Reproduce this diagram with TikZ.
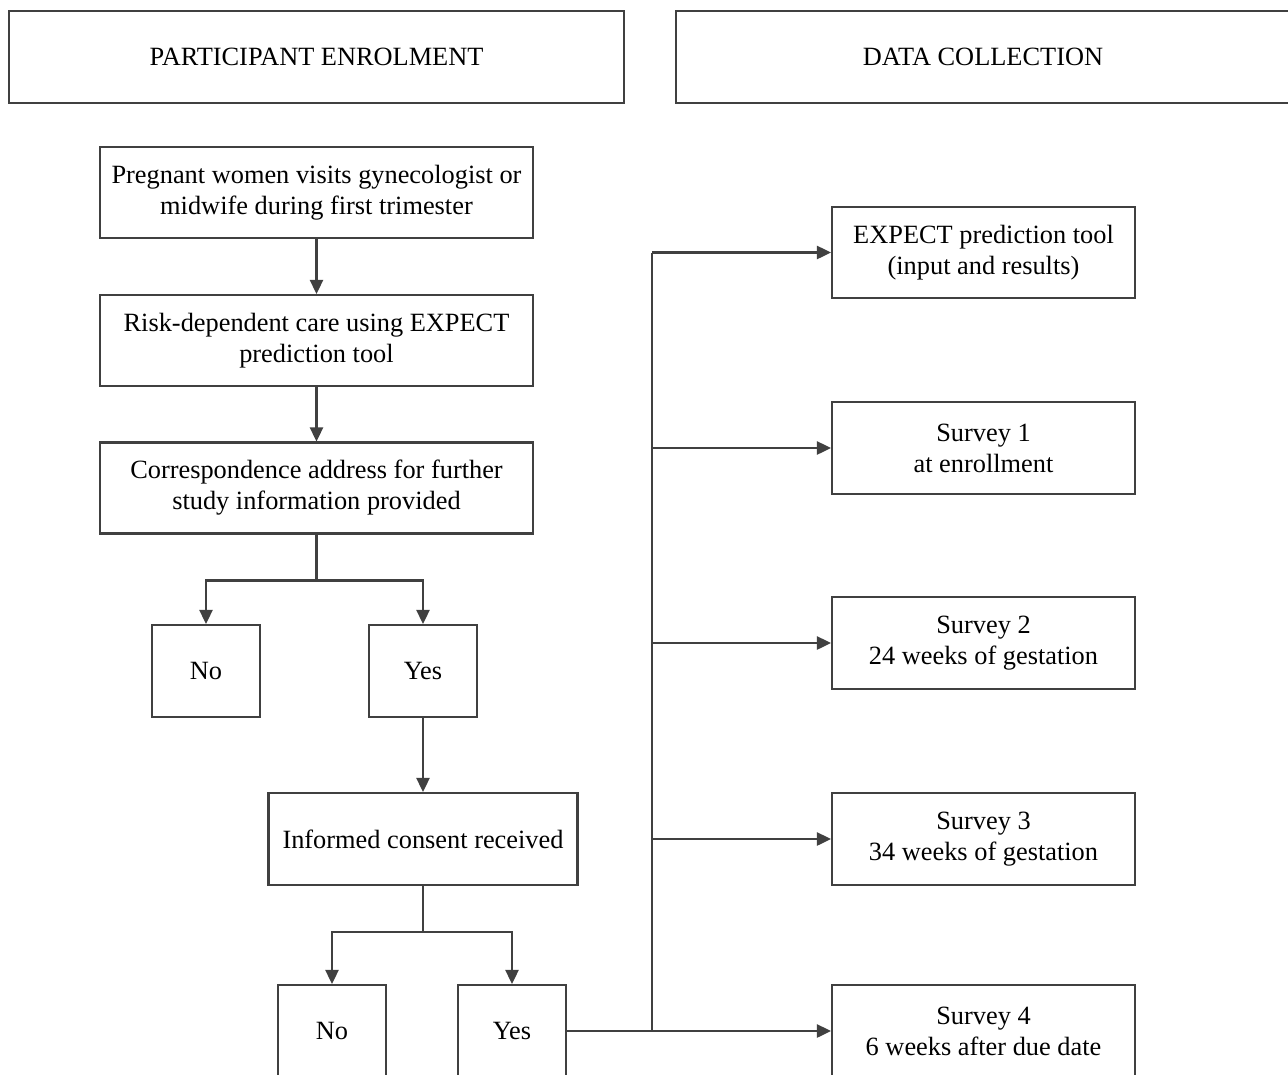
\documentclass[tikz,border=0pt]{standalone}
\usepackage{fontspec}
\setmainfont{Liberation Serif}
\usetikzlibrary{positioning,arrows.meta}
\definecolor{linegray}{HTML}{404040}
\tikzstyle{box} = [draw=linegray, line width=1.2pt, align=center, inner sep=2pt, font=\fontsize{15}{17.6}\selectfont]
\tikzstyle{line} = [linegray, line width=1.2pt]
\tikzstyle{arrow} = [linegray, line width=1.2pt, -{Triangle[length=8pt,width=7.5pt]}]

\begin{document}
\begin{tikzpicture}[x=0.02cm,y=-0.02cm]
      \useasboundingbox (0,0) rectangle (1288,1075);
      % headings
      \node[box,minimum width=12.3cm,minimum height=1.84cm] (enrol) at (316.5,57) {PARTICIPANT ENROLMENT};
      \node[box,minimum width=12.28cm,minimum height=1.84cm] (collect) at (983,57) {DATA COLLECTION};

      % enrolment
      \node[box,minimum width=8.66cm,minimum height=1.82cm] (visit) at (316.5,192.5) {Pregnant women visits gynecologist or\\midwife during first trimester};
      \node[box,minimum width=8.66cm,minimum height=1.82cm] (risk) at (316.5,340.5) {Risk-dependent care using EXPECT\\prediction tool};
      \node[box,minimum width=8.66cm,minimum height=1.82cm] (address) at (316.5,488) {Correspondence address for further\\study information provided};
      \node[box,minimum width=2.16cm,minimum height=1.84cm] (noA) at (206,671) {No};
      \node[box,minimum width=2.16cm,minimum height=1.84cm] (yesA) at (423,671) {Yes};
      \node[box,minimum width=6.18cm,minimum height=1.84cm] (consent) at (423,839) {Informed consent received};
      \node[box,minimum width=2.16cm,minimum height=1.84cm] (noB) at (332,1031) {No};
      \node[box,minimum width=2.16cm,minimum height=1.84cm] (yesB) at (512,1031) {Yes};

      % data collection
      \node[box,minimum width=6.06cm,minimum height=1.82cm] (expect) at (983.5,252.5) {EXPECT prediction tool\\(input and results)};
      \node[box,minimum width=6.06cm,minimum height=1.84cm] (surveyA) at (983.5,448) {Survey 1\\at enrollment};
      \node[box,minimum width=6.06cm,minimum height=1.84cm] (surveyB) at (983.5,643) {Survey 2\\24 weeks of gestation};
      \node[box,minimum width=6.06cm,minimum height=1.84cm] (surveyC) at (983.5,839) {Survey 3\\34 weeks of gestation};
      \node[box,minimum width=6.06cm,minimum height=1.84cm] (surveyD) at (983.5,1031) {Survey 4\\6 weeks after due date};

      \draw[arrow] (visit) -- (risk);
      \draw[arrow] (risk) -- (address);
      \draw[line] (address.south) -- ++(0,46) coordinate (splitA);
      \draw[arrow] (splitA) -| (noA);
      \draw[arrow] (splitA) -| (yesA);
      \draw[arrow] (yesA) -- (consent);
      \draw[line] (consent.south) -- ++(0,46) coordinate (splitB);
      \draw[arrow] (splitB) -| (noB);
      \draw[arrow] (splitB) -| (yesB);

      \coordinate (trunk) at (652,1031);
      \coordinate (trunktop) at (652,252.5);
      \draw[line] (yesB.east) -- (trunk);
      \draw[line] (trunk) -- (trunktop);
      \draw[arrow] (trunktop) -- (expect);
      \foreach \s in {surveyA,surveyB,surveyC}
        \draw[arrow] (trunktop |- \s) -- (\s);
      \draw[arrow] (trunk) -- (surveyD);
    \end{tikzpicture}
\end{document}
